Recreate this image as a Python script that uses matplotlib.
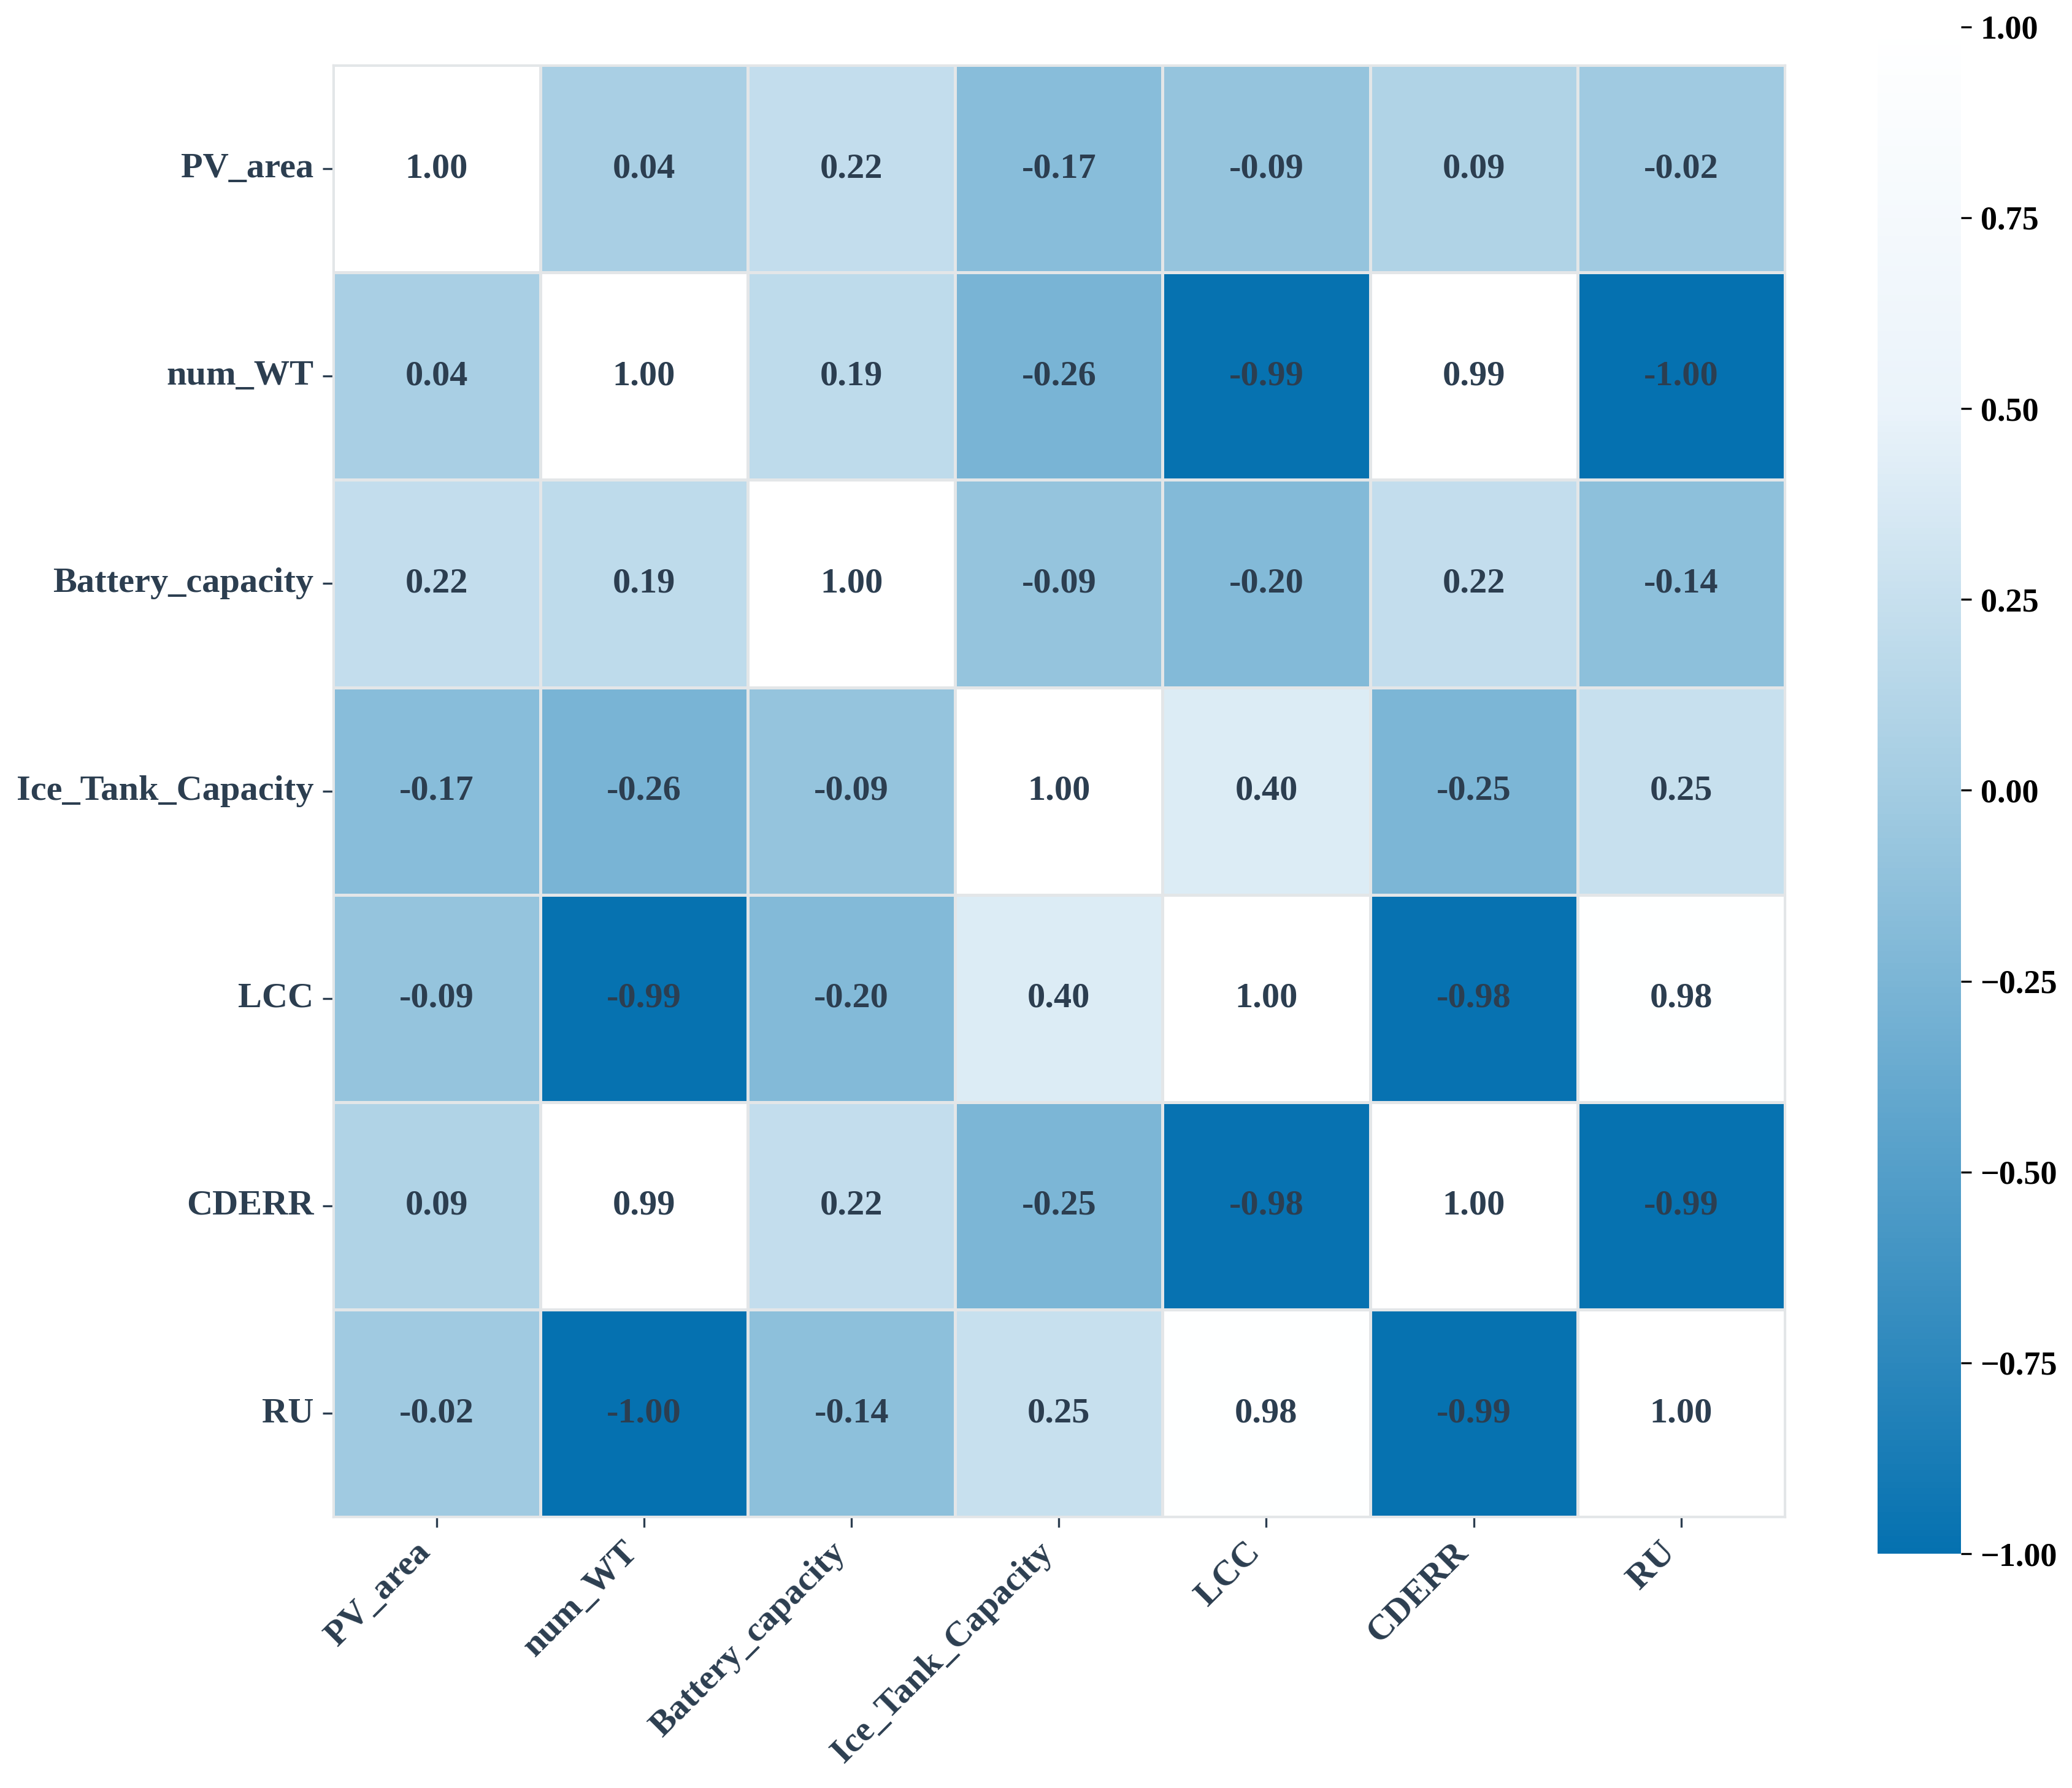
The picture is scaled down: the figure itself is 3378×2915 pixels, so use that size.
import matplotlib
matplotlib.use("Agg")
import matplotlib.pyplot as plt
from matplotlib.colors import LinearSegmentedColormap
import numpy as np
import seaborn as sns

labels = ["PV_area", "num_WT", "Battery_capacity", "Ice_Tank_Capacity", "LCC", "CDERR", "RU"]
row_pv = [1.00, 0.04, 0.22, -0.17, -0.09, 0.09, -0.02]
row_wt = [0.04, 1.00, 0.19, -0.26, -0.99, 0.99, -1.00]
row_bat = [0.22, 0.19, 1.00, -0.09, -0.20, 0.22, -0.14]
row_ice = [-0.17, -0.26, -0.09, 1.00, 0.40, -0.25, 0.25]
row_lcc = [-0.09, -0.99, -0.20, 0.40, 1.00, -0.98, 0.98]
row_cderr = [0.09, 0.99, 0.22, -0.25, -0.98, 1.00, -0.99]
row_ru = [-0.02, -1.00, -0.14, 0.25, 0.98, -0.99, 1.00]
cbar_ticks = [-1.00, -0.75, -0.50, -0.25, 0.00, 0.25, 0.50, 0.75, 1.00]

corr = np.array([row_pv, row_wt, row_bat, row_ice, row_lcc, row_cderr, row_ru])
annot = np.array([[f"{v:.2f}" for v in r] for r in corr])

plt.rcParams['font.family'] = ['Liberation Serif', 'DejaVu Serif']
plt.rcParams['font.weight'] = 'bold'

cmap = LinearSegmentedColormap.from_list(
    "blues_custom",
    [(0.0, '#0571b0'), (0.5, '#a3cce2'), (0.75, '#eaf3fa'), (1.0, '#ffffff')])

text_color = '#2c3e50'
fig = plt.figure(figsize=(3378/300, 2915/300), dpi=300)
ax = fig.add_axes([0.1607, 0.1516, 0.7007, 0.812])
cax = fig.add_axes([0.9062, 0.131, 0.0403, 0.854])

sns.heatmap(corr, ax=ax, cbar_ax=cax, cmap=cmap, vmin=-1, vmax=1,
            annot=annot, fmt="", square=True, linewidths=0.8, linecolor='#e3e6e8',
            annot_kws={"size": 14, "weight": "bold", "color": text_color},
            xticklabels=labels, yticklabels=labels)
ax.set_position([0.1607, 0.1516, 0.7007, 0.812])
cax.set_position([0.9062, 0.131, 0.0403, 0.854])

for s in ax.spines.values():
    s.set_visible(True)
    s.set_color('#e3e6e8')
    s.set_linewidth(0.8)

ax.tick_params(axis='both', length=4, width=0.8, color=text_color, labelsize=14)
ax.set_xticklabels(labels, rotation=45, ha='right',
                   fontsize=14, fontweight='bold', color=text_color)
ax.set_yticklabels(labels, rotation=0, fontsize=14, fontweight='bold', color=text_color)

cax.set_yticks(cbar_ticks)
cax.set_yticklabels([f"{t:.2f}".replace('-', '\u2212') for t in cbar_ticks])
cax.tick_params(labelsize=13, length=4, width=0.8, color='black', labelcolor='black')
for t in cax.get_yticklabels():
    t.set_fontweight('bold')

fig.savefig("out.png", dpi=300)
